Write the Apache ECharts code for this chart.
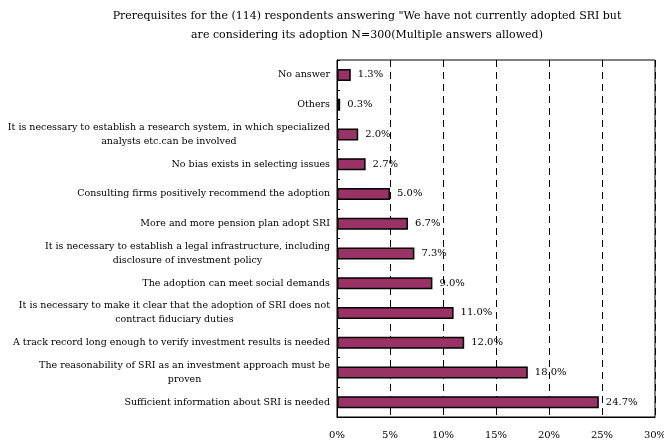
<!DOCTYPE html>
<html>
<head>
<meta charset="utf-8">
<script src="https://cdn.jsdelivr.net/npm/echarts@6/dist/echarts.min.js"></script>
<style>
  html, body { margin: 0; padding: 0; background: #fff; }
  #chart { width: 664px; height: 446px; }
</style>
</head>
<body>
<div id="chart"></div>
<script>
// Survey answers, listed top to bottom
const categories = [
  'No answer',
  'Others',
  'It is necessary to establish a research system, in which specialized\nanalysts etc.can be involved',
  'No bias exists in selecting issues',
  'Consulting firms positively recommend the adoption',
  'More and more pension plan adopt SRI',
  'It is necessary to establish a legal infrastructure, including\ndisclosure of investment policy',
  'The adoption can meet social demands',
  'It is necessary to make it clear that the adoption of SRI does not\ncontract fiduciary duties',
  'A track record long enough to verify investment results is needed',
  'The reasonability of SRI as an investment approach must be\nproven',
  'Sufficient information about SRI is needed'
];
// Share of respondents (%)
const shares = [1.3, 0.3, 2.0, 2.7, 5.0, 6.7, 7.3, 9.0, 11.0, 12.0, 18.0, 24.7];
const xTicks = [0, 5, 10, 15, 20, 25, 30];

const FONT = 'DejaVu Serif';
const chart = echarts.init(document.getElementById('chart'));

chart.setOption({
  animation: false,
  title: {
    text: 'Prerequisites for the (114) respondents answering "We have not currently adopted SRI but\nare considering its adoption N=300(Multiple answers allowed)',
    left: 362,
    top: 2,
    textAlign: 'center',
    textStyle: {
      fontFamily: FONT, fontSize: 11, fontWeight: 'normal', color: '#000',
      lineHeight: 19, align: 'center'
    }
  },
  grid: {
    left: 337, right: 9, top: 60, bottom: 29,
    outerBoundsMode: 'none',
    show: true, borderColor: '#000', borderWidth: 1
  },
  xAxis: {
    type: 'value',
    min: xTicks[0],
    max: xTicks[xTicks.length - 1],
    interval: 5,
    axisLine: { show: true, lineStyle: { color: '#000' } },
    axisTick: { show: false },
    axisLabel: {
      fontFamily: FONT, fontSize: 10, color: '#000', margin: 13,
      formatter: v => v + '%'
    },
    splitLine: { show: true, lineStyle: { color: '#000', type: [7, 5], width: 1 } }
  },
  yAxis: {
    type: 'category',
    inverse: true,
    data: categories,
    axisLine: { show: true, lineStyle: { color: '#000' } },
    axisTick: { show: true, inside: true, length: 3, lineStyle: { color: '#000' } },
    axisLabel: {
      margin: 7,
      color: '#000',
      formatter: v => '{c|' + v + '}',
      rich: { c: { fontFamily: FONT, fontSize: 9.5, color: '#000', align: 'center', lineHeight: 14 } }
    }
  },
  series: [{
    type: 'bar',
    data: shares,
    barWidth: 12,
    itemStyle: { color: '#993366', borderColor: '#000', borderWidth: 1.5 },
    label: {
      show: true,
      position: 'right',
      distance: 7,
      fontFamily: FONT, fontSize: 10, color: '#000',
      formatter: p => p.value.toFixed(1) + '%'
    }
  }]
});
</script>
</body>
</html>
